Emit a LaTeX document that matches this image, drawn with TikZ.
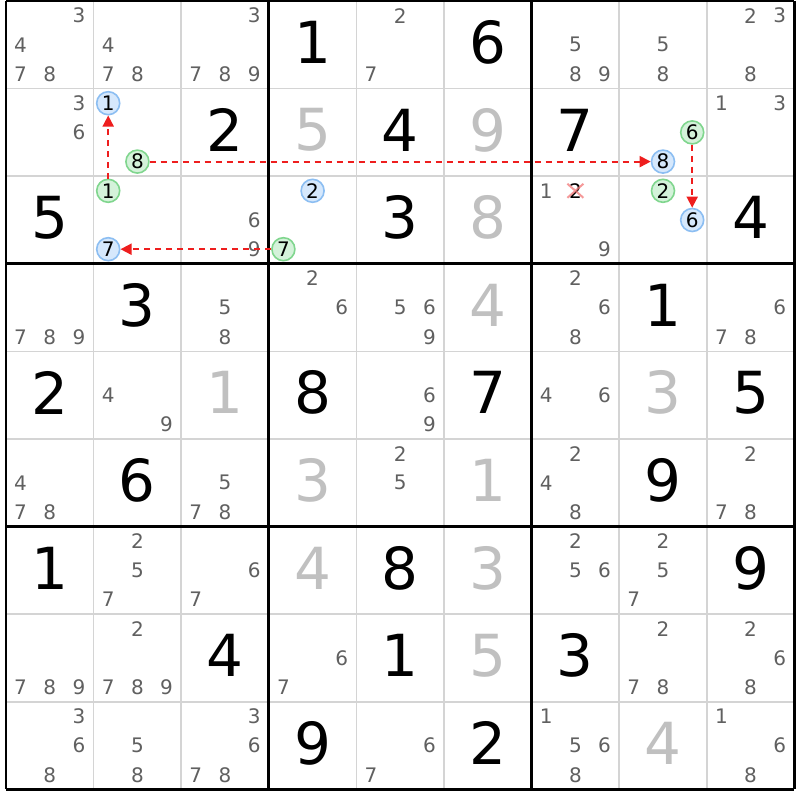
\documentclass[tikz,border=0pt]{standalone}
\usepackage{fontspec}
\setmainfont{DejaVu Sans}
\usetikzlibrary{arrows.meta}
\definecolor{candgray}{RGB}{96,96,96}
\definecolor{solvedgray}{RGB}{192,192,192}
\definecolor{thingrid}{RGB}{212,212,212}
\definecolor{bluefill}{RGB}{214,232,252}
\definecolor{blueedge}{RGB}{140,190,242}
\definecolor{greenfill}{RGB}{212,242,218}
\definecolor{greenedge}{RGB}{128,214,142}
\definecolor{chainred}{RGB}{238,30,30}
\definecolor{crossred}{RGB}{242,120,120}
\tikzset{
  cand/.style={text=candgray,inner sep=0pt,font=\fontsize{20}{20}\selectfont},
  given/.style={text=black,inner sep=0pt,font=\fontsize{58}{58}\selectfont},
  solved/.style={text=solvedgray,inner sep=0pt,font=\fontsize{58}{58}\selectfont},
  bluecirc/.style={circle,minimum size=23pt,inner sep=0pt,draw=blueedge,fill=bluefill,line width=1.6pt,text=black,font=\fontsize{20}{20}\selectfont},
  greencirc/.style={circle,minimum size=23pt,inner sep=0pt,draw=greenedge,fill=greenfill,line width=1.6pt,text=black,font=\fontsize{20}{20}\selectfont},
  chain/.style={draw=chainred,line width=1.8pt,dash pattern=on 6pt off 5pt,-{Triangle[length=11pt,width=11pt]}},
  thinline/.style={draw=thingrid,line width=1.6pt},
  thickline/.style={draw=black,line width=2.8pt}
}
\def\cs{87.6}
\newcommand\candpos[3]{({6+#2*\cs+(2*mod(#3-1,3)+1)*\cs/6},{1+#1*\cs+(2*floor((#3-1)/3)+1)*\cs/6})}
\begin{document}
\begin{tikzpicture}[x=1pt,y=-1pt]
\useasboundingbox (0,0) rectangle (800,800);
\fill[white] (0,0) rectangle (800,800);
% thin grid lines
\foreach \i in {1,2,4,5,7,8} {
  \draw[thinline] ({6+\i*\cs},1) -- ({6+\i*\cs},{1+9*\cs});
  \draw[thinline] (6,{1+\i*\cs}) -- ({6+9*\cs},{1+\i*\cs});
}
% thick grid lines
\foreach \i in {0,3,6,9} {
  \draw[thickline] ({6+\i*\cs},1) -- ({6+\i*\cs},{1+9*\cs});
  \draw[thickline] (6,{1+\i*\cs}) -- ({6+9*\cs},{1+\i*\cs});
}
% given digits
\foreach \r/\c/\d in {0/3/1,0/5/6,1/2/2,1/4/4,1/6/7,2/0/5,2/4/3,2/8/4,3/1/3,3/7/1,4/0/2,4/3/8,4/5/7,4/8/5,5/1/6,5/7/9,6/0/1,6/4/8,6/8/9,7/2/4,7/4/1,7/6/3,8/3/9,8/5/2}
  \node[given] (g-\r-\c) at ({6+(\c+0.5)*\cs},{1+(\r+0.5)*\cs-2.5}) {\d};
% solved (grey) digits
\foreach \r/\c/\d in {1/3/5,1/5/9,2/5/8,3/5/4,4/2/1,4/7/3,5/3/3,5/5/1,6/3/4,6/5/3,7/5/5,8/7/4}
  \node[solved] (s-\r-\c) at ({6+(\c+0.5)*\cs},{1+(\r+0.5)*\cs-2.5}) {\d};
% candidates
\foreach \r/\c/\p in {0/0/3,0/0/4,0/0/7,0/0/8,0/1/4,0/1/7,0/1/8,0/2/3,0/2/7,0/2/8,0/2/9,0/4/2,0/4/7,0/6/5,0/6/8,0/6/9,0/7/5,0/7/8,0/8/2,0/8/3,0/8/8,
  1/0/3,1/0/6,1/8/1,1/8/3,
  2/2/6,2/2/9,2/6/1,2/6/9,
  3/0/7,3/0/8,3/0/9,3/2/5,3/2/8,3/3/2,3/3/6,3/4/5,3/4/6,3/4/9,3/6/2,3/6/6,3/6/8,3/8/6,3/8/7,3/8/8,
  4/1/4,4/1/9,4/4/6,4/4/9,4/6/4,4/6/6,
  5/0/4,5/0/7,5/0/8,5/2/5,5/2/7,5/2/8,5/4/2,5/4/5,5/6/2,5/6/4,5/6/8,5/8/2,5/8/7,5/8/8,
  6/1/2,6/1/5,6/1/7,6/2/6,6/2/7,6/6/2,6/6/5,6/6/6,6/7/2,6/7/5,6/7/7,
  7/0/7,7/0/8,7/0/9,7/1/2,7/1/7,7/1/8,7/1/9,7/3/6,7/3/7,7/7/2,7/7/7,7/7/8,7/8/2,7/8/6,7/8/8,
  8/0/3,8/0/6,8/0/8,8/1/5,8/1/8,8/2/3,8/2/6,8/2/7,8/2/8,8/4/6,8/4/7,8/6/1,8/6/5,8/6/6,8/6/8,8/8/1,8/8/6,8/8/8}
  \node[cand] (c-\r-\c-\p) at ({6+\c*\cs+(2*mod(\p-1,3)+1)*\cs/6},{1+\r*\cs+(2*floor((\p-1)/3)+1)*\cs/6}) {\p};
% eliminated candidate
\node[inner sep=0pt,text=black,font=\fontsize{20}{20}\selectfont] (x-2-6-2) at \candpos{2}{6}{2} {2};
\draw[crossred,line width=2pt,opacity=0.75] ([shift={(-8,-7)}]x-2-6-2.center) -- ([shift={(8,7)}]x-2-6-2.center)
  ([shift={(-8,7)}]x-2-6-2.center) -- ([shift={(8,-7)}]x-2-6-2.center);
% circled candidates
\node[bluecirc] (b111) at \candpos{1}{1}{1} {1};
\node[greencirc] (g118) at \candpos{1}{1}{8} {8};
\node[greencirc] (g211) at \candpos{2}{1}{1} {1};
\node[bluecirc] (b217) at \candpos{2}{1}{7} {7};
\node[bluecirc] (b232) at \candpos{2}{3}{2} {2};
\node[greencirc] (g237) at \candpos{2}{3}{7} {7};
\node[greencirc] (g176) at \candpos{1}{7}{6} {6};
\node[bluecirc] (b178) at \candpos{1}{7}{8} {8};
\node[greencirc] (g272) at \candpos{2}{7}{2} {2};
\node[bluecirc] (b276) at \candpos{2}{7}{6} {6};
% chain links
\draw[chain] (g211) -- (b111);
\draw[chain] (g118) -- (b178);
\draw[chain] (g237) -- (b217);
\draw[chain] (g176) -- (b276);
\end{tikzpicture}
\end{document}
